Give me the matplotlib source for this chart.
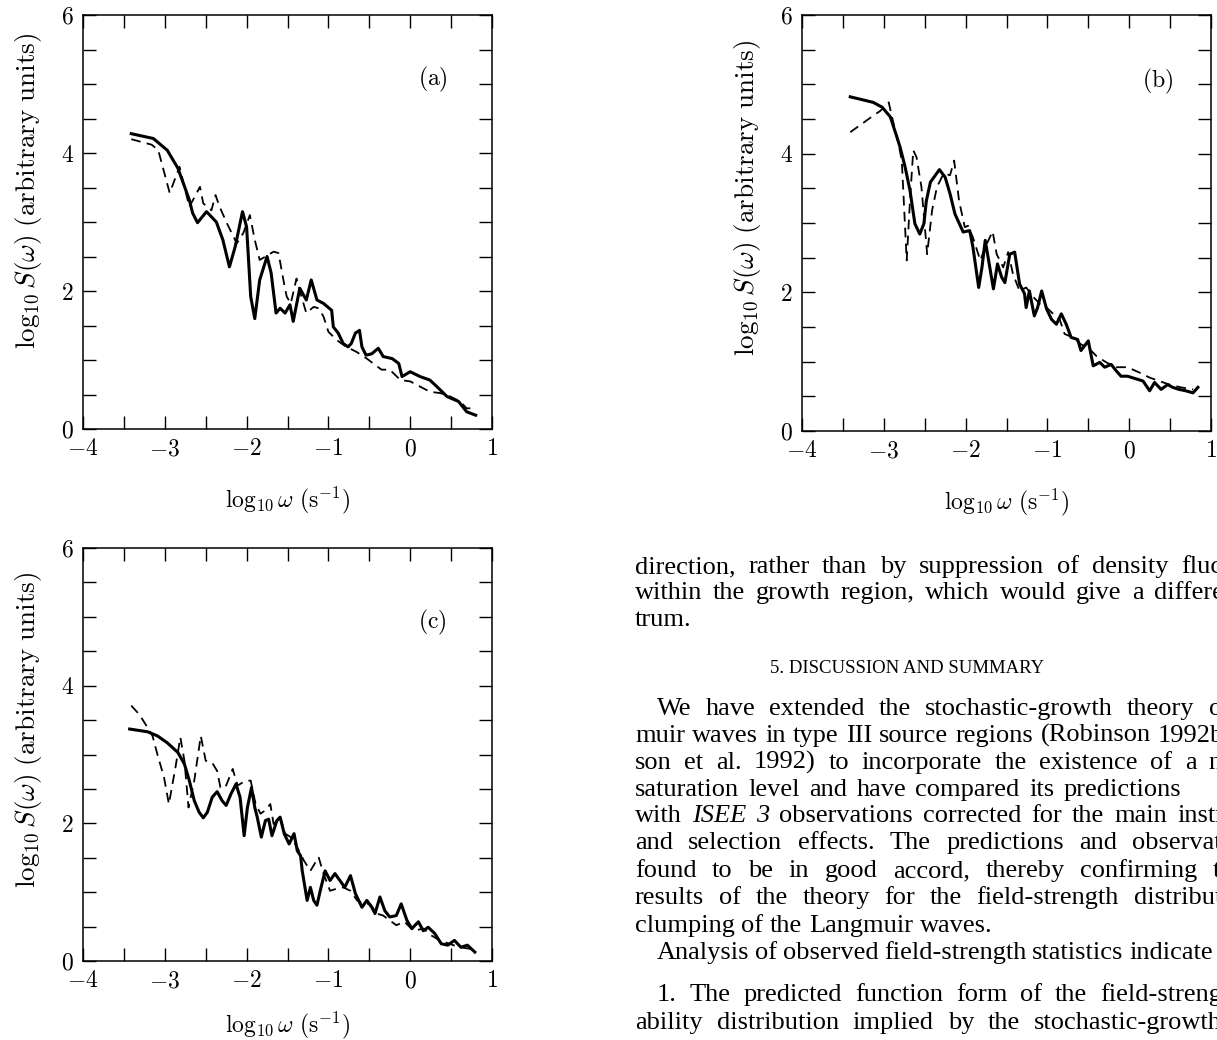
import numpy as np
import matplotlib
matplotlib.use('Agg')
import matplotlib.pyplot as plt
from matplotlib.transforms import IdentityTransform

plt.rcParams['mathtext.fontset'] = 'cm'
plt.rcParams['font.family'] = 'serif'
plt.rcParams['font.serif'] = ['cmr10', 'DejaVu Serif']
plt.rcParams['lines.scale_dashes'] = False

################################################################################
# DATA
################################################################################
# panel (a)
a_solid_x = [-3.41, -3.14, -2.97, -2.84, -2.70, -2.66, -2.60, -2.49, -2.37, -2.29,
             -2.21, -2.14, -2.05, -2.00, -1.95, -1.90, -1.84, -1.75, -1.70, -1.64,
             -1.59, -1.53, -1.47, -1.43, -1.35, -1.27, -1.21, -1.14, -1.06, -0.96,
             -0.94, -0.88, -0.82, -0.76, -0.72, -0.67, -0.62, -0.59, -0.54, -0.47,
             -0.39, -0.33, -0.22, -0.14, -0.10, 0.00, 0.12, 0.24, 0.33, 0.45,
             0.59, 0.69, 0.80]
a_solid_y = [4.28, 4.21, 4.04, 3.78, 3.32, 3.13, 2.99, 3.15, 3.00, 2.74,
             2.35, 2.64, 3.15, 2.93, 1.92, 1.60, 2.16, 2.50, 2.26, 1.68,
             1.75, 1.68, 1.80, 1.56, 2.04, 1.87, 2.16, 1.87, 1.82, 1.72,
             1.48, 1.39, 1.24, 1.19, 1.24, 1.39, 1.43, 1.19, 1.07, 1.09,
             1.17, 1.05, 1.02, 0.95, 0.76, 0.83, 0.76, 0.71, 0.61, 0.47,
             0.40, 0.25, 0.20]
a_dash_x = [-3.41, -3.16, -3.08, -2.94, -2.82, -2.70, -2.57, -2.53, -2.43, -2.38,
            -2.33, -2.24, -2.12, -2.04, -1.96, -1.90, -1.84, -1.67, -1.61, -1.55,
            -1.51, -1.46, -1.39, -1.33, -1.27, -1.18, -1.12, -1.06, -1.00, -0.90,
            -0.78, -0.66, -0.53, -0.43, -0.35, -0.25, -0.12, 0.00, 0.08, 0.24,
            0.37, 0.49, 0.61, 0.69, 0.80]
a_dash_y = [4.20, 4.12, 4.04, 3.42, 3.80, 3.22, 3.51, 3.27, 3.17, 3.39,
            3.22, 2.98, 2.69, 2.84, 3.10, 2.74, 2.45, 2.57, 2.55, 2.16,
            1.92, 1.82, 2.18, 1.92, 1.68, 1.77, 1.75, 1.63, 1.41, 1.29,
            1.19, 1.12, 1.02, 0.93, 0.86, 0.86, 0.71, 0.69, 0.64, 0.54,
            0.52, 0.47, 0.40, 0.30, 0.30]

# panel (b)
b_solid_x = [-3.41, -3.13, -3.02, -2.92, -2.84, -2.80, -2.74, -2.68, -2.62, -2.56,
             -2.51, -2.48, -2.43, -2.32, -2.25, -2.19, -2.13, -2.03, -1.95, -1.91,
             -1.84, -1.80, -1.76, -1.66, -1.61, -1.56, -1.52, -1.46, -1.40, -1.34,
             -1.28, -1.26, -1.22, -1.16, -1.12, -1.07, -1.01, -0.95, -0.89, -0.83,
             -0.77, -0.71, -0.63, -0.59, -0.50, -0.44, -0.36, -0.30, -0.22, -0.16,
             -0.10, -0.02, 0.09, 0.17, 0.25, 0.31, 0.39, 0.47, 0.53, 0.61,
             0.69, 0.78, 0.84]
b_solid_y = [4.82, 4.74, 4.67, 4.53, 4.24, 4.09, 3.81, 3.47, 2.99, 2.84,
             2.99, 3.32, 3.59, 3.77, 3.66, 3.42, 3.13, 2.87, 2.89, 2.65,
             2.07, 2.36, 2.75, 2.05, 2.41, 2.22, 2.14, 2.55, 2.58, 2.12,
             1.98, 1.78, 2.02, 1.66, 1.78, 2.02, 1.76, 1.61, 1.54, 1.69,
             1.54, 1.35, 1.32, 1.16, 1.30, 0.94, 0.99, 0.92, 0.96, 0.87,
             0.79, 0.79, 0.75, 0.72, 0.58, 0.70, 0.60, 0.67, 0.63, 0.60,
             0.58, 0.55, 0.63]
b_dash_x = [-3.41, -3.15, -3.04, -2.94, -2.90, -2.82, -2.78, -2.72, -2.68, -2.64,
            -2.60, -2.54, -2.47, -2.41, -2.35, -2.27, -2.19, -2.14, -2.08, -2.01,
            -1.97, -1.91, -1.82, -1.76, -1.67, -1.62, -1.54, -1.48, -1.42, -1.34,
            -1.26, -1.17, -1.09, -1.01, -0.93, -0.85, -0.79, -0.69, -0.59, -0.50,
            -0.40, -0.28, -0.16, -0.02, 0.13, 0.25, 0.37, 0.49, 0.63, 0.78]
b_dash_y = [4.31, 4.53, 4.62, 4.74, 4.53, 4.14, 3.90, 2.46, 3.32, 4.05,
            3.95, 3.52, 2.55, 3.18, 3.52, 3.71, 3.69, 3.90, 3.32, 2.94,
            2.96, 2.79, 2.46, 2.65, 2.88, 2.55, 2.36, 2.58, 2.26, 2.02,
            2.07, 1.93, 1.83, 1.78, 1.69, 1.61, 1.40, 1.35, 1.25, 1.20,
            1.08, 0.99, 0.92, 0.92, 0.84, 0.77, 0.72, 0.67, 0.63, 0.60]

# panel (c)
c_solid_x = [-3.43, -3.21, -3.09, -2.97, -2.84, -2.76, -2.70, -2.64, -2.58, -2.53,
             -2.48, -2.42, -2.36, -2.30, -2.25, -2.19, -2.13, -2.08, -2.03, -1.99,
             -1.94, -1.90, -1.87, -1.82, -1.77, -1.73, -1.69, -1.63, -1.59, -1.54,
             -1.48, -1.42, -1.38, -1.34, -1.32, -1.26, -1.22, -1.18, -1.14, -1.10,
             -1.04, -0.98, -0.92, -0.86, -0.80, -0.73, -0.67, -0.59, -0.53, -0.47,
             -0.43, -0.37, -0.31, -0.25, -0.17, -0.11, -0.04, 0.02, 0.10, 0.16,
             0.22, 0.30, 0.38, 0.46, 0.54, 0.62, 0.70, 0.79]
c_solid_y = [3.37, 3.33, 3.27, 3.17, 3.03, 2.86, 2.62, 2.33, 2.16, 2.08,
             2.16, 2.38, 2.46, 2.33, 2.26, 2.43, 2.57, 2.38, 1.82, 2.23,
             2.52, 2.23, 2.09, 1.80, 2.04, 2.06, 1.82, 2.04, 2.09, 1.85,
             1.70, 1.85, 1.60, 1.53, 1.31, 0.88, 1.07, 0.88, 0.81, 1.02,
             1.31, 1.17, 1.27, 1.17, 1.07, 1.24, 0.98, 0.78, 0.88, 0.78,
             0.69, 0.93, 0.73, 0.64, 0.66, 0.83, 0.59, 0.47, 0.57, 0.44,
             0.49, 0.40, 0.25, 0.23, 0.30, 0.20, 0.23, 0.13]
c_dash_x = [-3.41, -3.31, -3.21, -3.15, -3.09, -3.01, -2.95, -2.87, -2.81, -2.76,
            -2.71, -2.64, -2.56, -2.50, -2.42, -2.36, -2.32, -2.26, -2.17, -2.11,
            -2.01, -1.95, -1.89, -1.83, -1.77, -1.71, -1.67, -1.59, -1.53, -1.46,
            -1.38, -1.30, -1.22, -1.12, -1.06, -0.98, -0.90, -0.82, -0.73, -0.65,
            -0.57, -0.49, -0.41, -0.33, -0.25, -0.17, -0.07, 0.04, 0.16, 0.26,
            0.36, 0.48, 0.60, 0.72, 0.79]
c_dash_y = [3.71, 3.58, 3.39, 3.27, 3.00, 2.67, 2.28, 2.81, 3.25, 2.91,
            2.23, 2.62, 3.27, 2.91, 2.88, 2.76, 2.52, 2.52, 2.79, 2.55,
            2.62, 2.62, 2.28, 2.14, 2.19, 2.28, 1.99, 2.09, 1.85, 1.80,
            1.65, 1.46, 1.31, 1.51, 1.27, 1.02, 1.05, 1.07, 1.02, 0.88,
            0.83, 0.83, 0.69, 0.66, 0.59, 0.52, 0.57, 0.44, 0.47, 0.37,
            0.30, 0.25, 0.20, 0.18, 0.15]

xtick_pos = np.arange(-4, 1.01, 0.5)
xtick_labels = [r'$-4$', '', r'$-3$', '', r'$-2$', '', r'$-1$', '', r'$0$', '', r'$1$']
ytick_pos = np.arange(0, 6.01, 0.5)
ytick_labels = [r'$0$', '', '', '', r'$2$', '', '', '', r'$4$', '', '', '', r'$6$']

# text column to the right of panel (c); words between * are italic
text_lines = [
    'direction, rather than by suppression of density fluc',
    'within the growth region, which would give a differe',
    'trum.',
    'We have extended the stochastic-growth theory o',
    'muir waves in type III source regions (Robinson 1992b',
    'son et al. 1992) to incorporate the existence of a n',
    'saturation level and have compared its predictions',
    'with *ISEE* *3* observations corrected for the main instr',
    'and selection effects. The predictions and observat',
    'found to be in good accord, thereby confirming t',
    'results of the theory for the field-strength distribut',
    'clumping of the Langmuir waves.',
    'Analysis of observed field-strength statistics indicate',
    '1. The predicted function form of the field-streng',
    'ability distribution implied by the stochastic-growth',
]
heading = '5. DISCUSSION AND SUMMARY'

################################################################################
# FIGURE
################################################################################
W, H = 1217, 1040
fig = plt.figure(figsize=(W / 100, H / 100), dpi=100)


def px_axes(left, top, right, bottom):
    return fig.add_axes([left / W, 1 - bottom / H, (right - left) / W, (bottom - top) / H])


def panel(ax, sx, sy, dx, dy, tag, tag_pos, ylab_y):
    ax.plot(sx, sy, color='black', lw=2.2, solid_joinstyle='round')
    ax.plot(dx, dy, color='black', lw=1.3, ls=(0, (7, 4.5)))
    ax.set_xlim(-4, 1)
    ax.set_ylim(0, 6)
    ax.set_xticks(xtick_pos)
    ax.set_xticklabels(xtick_labels)
    ax.set_yticks(ytick_pos)
    ax.set_yticklabels(ytick_labels)
    ax.tick_params(direction='in', length=9.5, width=1.0, top=True, right=True,
                   labelsize=17, pad=6.5, colors='black')
    for s in ax.spines.values():
        s.set_linewidth(1.1)
    ax.set_xlabel(r'$\log_{10}\omega\ (\mathrm{s}^{-1})$', fontsize=17)
    ax.set_ylabel(r'$\log_{10} S(\omega)\ \mathrm{(arbitrary\ units)}$', fontsize=19.5)
    ax.xaxis.set_label_coords(0.5, -0.135)
    ax.yaxis.set_label_coords(-0.095, ylab_y)
    ax.text(tag_pos[0], tag_pos[1], tag, transform=ax.transAxes, fontsize=17,
            ha='center', va='center')


ax_a = px_axes(83, 15, 492, 429)
panel(ax_a, a_solid_x, a_solid_y, a_dash_x, a_dash_y, r'$\mathrm{(a)}$', (0.855, 0.845), 0.575)

ax_b = px_axes(802, 15, 1211, 431)
panel(ax_b, b_solid_x, b_solid_y, b_dash_x, b_dash_y, r'$\mathrm{(b)}$', (0.87, 0.84), 0.56)

ax_c = px_axes(83, 548, 492, 961)
panel(ax_c, c_solid_x, c_solid_y, c_dash_x, c_dash_y, r'$\mathrm{(c)}$', (0.855, 0.82), 0.56)
ax_c.xaxis.set_label_coords(0.5, -0.118)

################################################################################
# TEXT COLUMN (justified word by word)
################################################################################
baselines = [573, 599, 626, 715, 742, 769, 796, 822, 849, 877, 904, 932, 959, 1001, 1029]
lefts = [635, 635, 635, 657, 635, 635, 635, 635, 635, 635, 635, 635, 657, 657, 635]
rights = [1222, 1224, None, 1222, 1224, 1222, 1181, 1224, 1222, 1220, 1222, None, 1213, 1222, 1222]
tsize = 19
tfam = ['Liberation Serif', 'DejaVu Serif']

fig.canvas.draw()
renderer = fig.canvas.get_renderer()
tr = IdentityTransform()

for line, base, x0, x1 in zip(text_lines, baselines, lefts, rights):
    words = line.split(' ')
    objs = []
    for w in words:
        ital = w.startswith('*')
        t = fig.text(0, H - base, w.strip('*'), transform=tr, fontsize=tsize,
                     family=tfam, style='italic' if ital else 'normal',
                     ha='left', va='baseline')
        objs.append(t)
    widths = [o.get_window_extent(renderer).width for o in objs]
    space = tsize * 100 / 72 * 0.25
    if x1 is not None and len(objs) > 1:
        space = max((x1 - x0 - sum(widths)) / (len(objs) - 1), tsize * 100 / 72 * 0.18)
    x = x0
    for o, wd in zip(objs, widths):
        o.set_x(x)
        x += wd + space

fig.text(907, H - 673, heading, transform=tr, fontsize=13.5, family=tfam,
         ha='center', va='baseline')

fig.savefig('out.png', dpi=100)
